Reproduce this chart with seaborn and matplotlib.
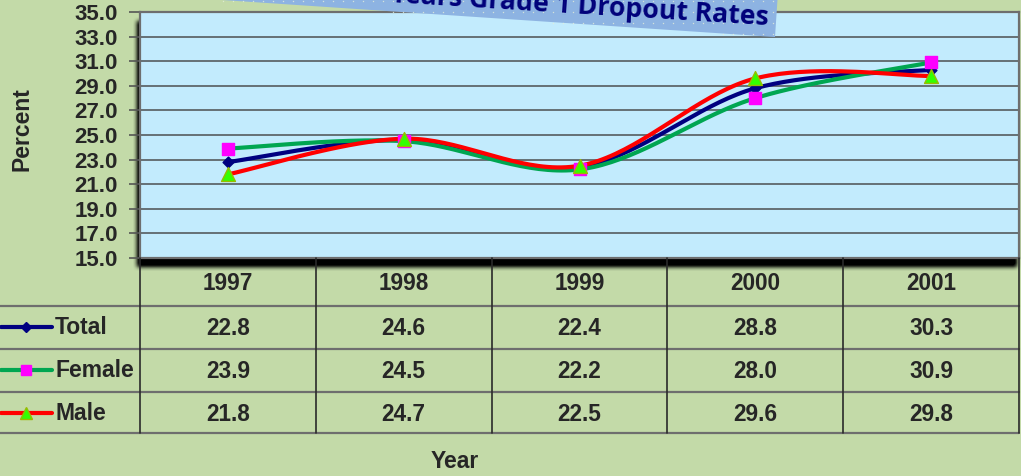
import numpy as np
import pandas as pd
import matplotlib
matplotlib.use("Agg")
import matplotlib.pyplot as plt
import seaborn as sns
from matplotlib import transforms, font_manager
from matplotlib.patches import Polygon
from matplotlib.lines import Line2D
from matplotlib.path import Path

# ---- data -------------------------------------------------------------
years = ["1997", "1998", "1999", "2000", "2001"]
total = [22.8, 24.6, 22.4, 28.8, 30.3]
female = [23.9, 24.5, 22.2, 28.0, 30.9]
male = [21.8, 24.7, 22.5, 29.6, 29.8]
series_names = ["Total", "Female", "Male"]
y_ticks = [15.0, 17.0, 19.0, 21.0, 23.0, 25.0, 27.0, 29.0, 31.0, 33.0, 35.0]
title_text = "Years Grade 1 Dropout Rates"
y_label = "Percent"
x_label = "Year"

# ---- styles -----------------------------------------------------------
W, H = 1021, 476
BG = "#C3DAA8"
PLOT_BG = "#C2EBFD"
styles = {
    "Total": dict(color="#000080", marker="D", mfc="#000080", mec="#000080", ms=5.5),
    "Female": dict(color="#00A651", marker="s", mfc="#FF00FF", mec="#FF00FF", ms=8),
    "Male": dict(color="#FF0000", marker="^", mfc="#33FF00", mec="#99BB00", ms=10),
}

sns.set_style("white")
plt.rcParams["font.family"] = ["Liberation Sans", "DejaVu Sans"]
plt.rcParams["font.weight"] = "bold"

names = {f.name for f in font_manager.fontManager.ttflist}
if "Liberation Sans Narrow" in names:
    label_font = dict(family=["Liberation Sans Narrow", "DejaVu Sans"], size=19.5)
else:
    label_font = dict(family=["Liberation Sans", "DejaVu Sans"], size=16.5)
title_family = ["Open Sans", "DejaVu Sans"]


def fx(px):
    return px / W


def fy(py):
    return 1 - py / H


def smooth(xs, ys, n=40):
    """Bezier smoothing through every point (control arms = neighbour chord / 6)."""
    p = np.column_stack([xs, ys]).astype(float)
    pad = np.vstack([p[0], p, p[-1]])
    t = np.linspace(0, 1, n)[:, None]
    parts = []
    for i in range(len(p) - 1):
        p0, p1, p2, p3 = pad[i], pad[i + 1], pad[i + 2], pad[i + 3]
        c1 = p1 + (p2 - p0) / 6
        c2 = p2 - (p3 - p1) / 6
        seg = (1 - t) ** 3 * p1 + 3 * (1 - t) ** 2 * t * c1 + 3 * (1 - t) * t ** 2 * c2 + t ** 3 * p2
        parts.append(seg if i == 0 else seg[1:])
    return np.vstack(parts)


fig = plt.figure(figsize=(W / 100, H / 100), dpi=100, facecolor=BG)
ax = fig.add_axes([fx(140), fy(258), fx(1019) - fx(140), fy(12) - fy(258)])
ax.set_facecolor(PLOT_BG)

# drop shadow under the plot area
mask = np.zeros((H, W))
mask[21:267, 137:1017] = 1.0
k = np.ones(5) / 5
for _ in range(2):
    mask = np.apply_along_axis(lambda r: np.convolve(r, k, mode="same"), 1, mask)
    mask = np.apply_along_axis(lambda c: np.convolve(c, k, mode="same"), 0, mask)
shadow = np.zeros((H, W, 4))
shadow[..., 3] = np.clip(mask * 1.2, 0, 1)
fig.figimage(shadow, 0, 0, origin="upper", zorder=-1)

# ---- series -----------------------------------------------------------
xs = np.arange(len(years))
values = {"Total": total, "Female": female, "Male": male}
for name in series_names:
    st = styles[name]
    curve = smooth(xs, values[name])
    sdf = pd.DataFrame({"x": curve[:, 0], "y": curve[:, 1]})
    sns.lineplot(data=sdf, x="x", y="y", sort=False, estimator=None, ax=ax,
                 color=st["color"], lw=3.0, solid_capstyle="round")
    pdf = pd.DataFrame({"x": xs, "y": values[name]})
    sns.scatterplot(data=pdf, x="x", y="y", ax=ax, marker=st["marker"],
                    s=st["ms"] ** 2, color=st["mfc"], edgecolor=st["mec"],
                    linewidth=1.0, zorder=5)

ax.set_xlim(-0.5, len(years) - 0.5)
ax.set_ylim(15, 35)
ax.set_yticks(y_ticks)
ax.set_yticklabels([f"{v:.1f}" for v in y_ticks], fontsize=16, fontweight="bold")
ax.set_xticks([])
ax.set_xlabel("")
ax.set_ylabel("")
ax.grid(axis="y", color="#555B5E", lw=1.2)
ax.grid(axis="x", visible=False)
ax.set_axisbelow(True)
ax.tick_params(axis="y", left=True, length=8, width=1.2, color="#555555", pad=8)
for sp in ax.spines.values():
    sp.set_color("#6E6E6E")
    sp.set_linewidth(1.6)

fig.text(fx(22), fy(129), y_label, rotation=90, ha="center", va="center",
         fontweight="bold", **label_font)

# ---- data table -------------------------------------------------------
tx = transforms.blended_transform_factory(ax.transData, fig.transFigure)
row_lines = [306, 349, 392, 433]
for yy in row_lines:
    fig.add_artist(Line2D([0, fx(1019)], [fy(yy), fy(yy)], transform=fig.transFigure,
                          color="#6E6E6E", lw=1.6))
for b in np.arange(len(years) + 1) - 0.5:
    fig.add_artist(Line2D([b, b], [fy(258), fy(433)], transform=tx, color="#2A2A2A", lw=1.2))

for i, yr in enumerate(years):
    fig.text(i, fy(290), yr, transform=tx, ha="center", va="baseline",
             fontsize=16.3, fontweight="bold")

row_base = {"Total": 335, "Female": 378, "Male": 421}
for name in series_names:
    st = styles[name]
    base = row_base[name]
    mid = base - 8
    fig.add_artist(Line2D([fx(1), fx(52)], [fy(mid), fy(mid)], transform=fig.transFigure,
                          color=st["color"], lw=3.0))
    fig.add_artist(Line2D([fx(26)], [fy(mid)], transform=fig.transFigure, ls="none",
                          marker=st["marker"], ms=st["ms"] * 0.85, mfc=st["mfc"],
                          mec=st["mec"], mew=1.0))
    fig.text(fx(55), fy(base - 1), name, ha="left", va="baseline", fontweight="bold",
             **label_font)
    for i, v in enumerate(values[name]):
        fig.text(i, fy(base), f"{v:.1f}", transform=tx, ha="center", va="baseline",
                 fontsize=16.3, fontweight="bold")

fig.text(fx(455), fy(468), x_label, ha="center", va="baseline", fontweight="bold",
         **label_font)

# ---- tilted title banner ---------------------------------------------
ang = np.deg2rad(3.83)
d = np.array([np.cos(ang), np.sin(ang)])      # along the banner (image px, y down)
u = np.array([np.sin(ang), -np.cos(ang)])     # banner "up"
br = np.array([775.0, 37.0])
corners = [br, br + 55 * u, br + 55 * u - 720 * d, br - 720 * d]
banner = Polygon([(fx(c[0]), fy(c[1])) for c in corners], closed=True,
                 transform=fig.transFigure, facecolor="#8DB3E2", edgecolor="none",
                 zorder=3)
fig.add_artist(banner)

# fine dotted texture on the banner
gx, gy = np.meshgrid(np.arange(3, W, 10), np.arange(1, 60, 11))
pts = np.column_stack([gx.ravel(), gy.ravel()]).astype(float)
inside = Path(np.array(corners)).contains_points(pts, radius=-2)
pts = pts[inside]
fig.add_artist(Line2D(pts[:, 0] / W, 1 - pts[:, 1] / H, transform=fig.transFigure,
                      ls="none", marker="s", ms=0.9, mew=0, mfc="#E6EFD8", alpha=0.8,
                      zorder=3.5))

fig.text(fx(768), fy(25), title_text, ha="right", va="baseline", rotation=-3.5,
         rotation_mode="anchor", family=title_family, fontsize=19.2, fontweight="bold",
         color="#00007A", zorder=4)

fig.savefig("out.png", dpi=100, facecolor=BG)
